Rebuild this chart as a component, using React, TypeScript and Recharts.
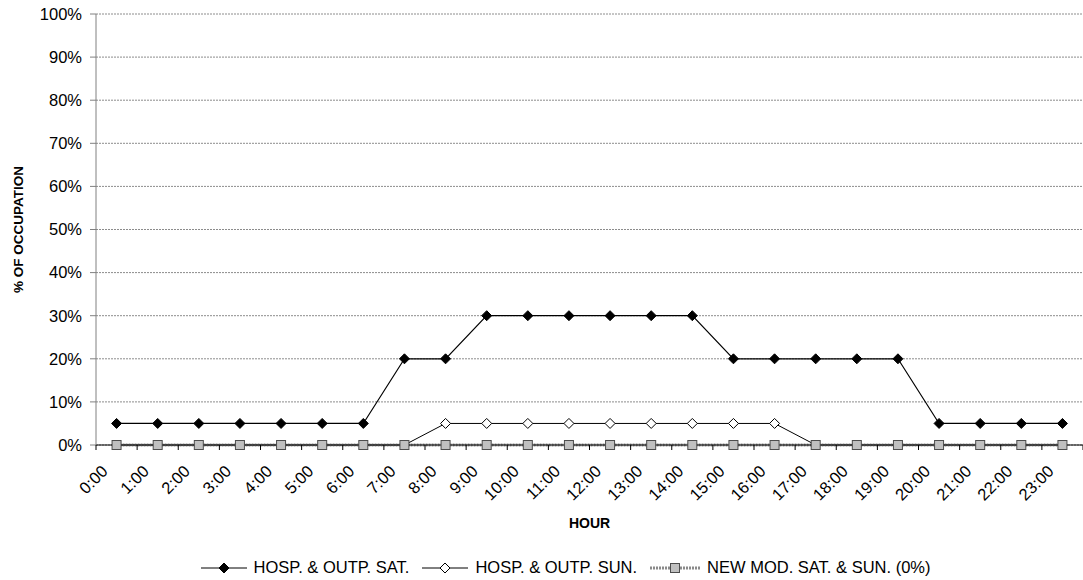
import React from 'react';
import { LineChart, Line, XAxis, YAxis, CartesianGrid, Legend } from 'recharts';

const hours = ['0:00','1:00','2:00','3:00','4:00','5:00','6:00','7:00','8:00','9:00','10:00','11:00','12:00','13:00','14:00','15:00','16:00','17:00','18:00','19:00','20:00','21:00','22:00','23:00'];
const satValues = [5,5,5,5,5,5,5,20,20,30,30,30,30,30,30,20,20,20,20,20,5,5,5,5];
const sunValues = [0,0,0,0,0,0,0,0,5,5,5,5,5,5,5,5,5,0,0,0,0,0,0,0];
const newModValues = [0,0,0,0,0,0,0,0,0,0,0,0,0,0,0,0,0,0,0,0,0,0,0,0];
const yTicks = [0,10,20,30,40,50,60,70,80,90,100];
const seriesNames = ['HOSP. & OUTP. SAT.', 'HOSP. & OUTP. SUN.', 'NEW MOD. SAT. & SUN. (0%)'];

const data = hours.map((h, i) => ({ x: i + 0.5, hour: h, sat: satValues[i], sun: sunValues[i], newMod: newModValues[i] }));
const xTicks = hours.flatMap((h, i) => [i, i + 0.5]).concat([hours.length]);

const FONT = 'Liberation Sans, Arial, sans-serif';
const TICK_FS = 16.5;

// text y passed to the tick = axis y + tickSize(6) + tickMargin(2)
const XTick = (props: any) => {
  const { x, y, payload } = props;
  const v = payload.value;
  if (Number.isInteger(v)) {
    return <line x1={x} y1={y - 8} x2={x} y2={y - 3} stroke="#000" strokeWidth={1} />;
  }
  const label = hours[Math.floor(v)];
  const tx = x - 12;
  const ty = y + 15;
  return (
    <text x={tx} y={ty} textAnchor="end" dominantBaseline="central" fontSize={TICK_FS} fontFamily={FONT} fill="#000" transform={`rotate(-45 ${tx} ${ty})`}>
      {label}
    </text>
  );
};

const diamond = (fill: string) => (p: any) => {
  const { cx, cy, index } = p;
  if (cx == null || cy == null) return <g key={index} />;
  return <path key={index} d={`M${cx},${cy - 5} L${cx + 5},${cy} L${cx},${cy + 5} L${cx - 5},${cy} Z`} fill={fill} stroke="#000" strokeWidth={1} />;
};
const square = (p: any) => {
  const { cx, cy, index } = p;
  if (cx == null || cy == null) return <g key={index} />;
  return <rect key={index} x={cx - 4.5} y={cy - 4.5} width={9} height={9} fill="#c0c0c0" stroke="#4d4d4d" strokeWidth={1} />;
};

const LegendContent = () => {
  const item = (i: number) => {
    let icon;
    if (i === 0) {
      icon = (
        <svg width={46} height={14}>
          <line x1={0} y1={7} x2={46} y2={7} stroke="#000" strokeWidth={1} />
          <path d="M23,2 L28,7 L23,12 L18,7 Z" fill="#000" stroke="#000" />
        </svg>
      );
    } else if (i === 1) {
      icon = (
        <svg width={46} height={14}>
          <line x1={0} y1={7} x2={46} y2={7} stroke="#000" strokeWidth={1} />
          <path d="M23,2 L28,7 L23,12 L18,7 Z" fill="#fff" stroke="#000" />
        </svg>
      );
    } else {
      icon = (
        <svg width={50} height={14}>
          <line x1={0} y1={7} x2={50} y2={7} stroke="#8a8a8a" strokeWidth={3} strokeDasharray="2 1" />
          <rect x={20.5} y={2.5} width={9} height={9} fill="#c0c0c0" stroke="#4d4d4d" />
        </svg>
      );
    }
    return (
      <div key={i} style={{ display: 'flex', alignItems: 'center', marginRight: i < 2 ? 13 : 0 }}>
        {icon}
        <span style={{ marginLeft: 7, fontSize: TICK_FS, fontFamily: FONT, color: '#000', whiteSpace: 'nowrap' }}>{seriesNames[i]}</span>
      </div>
    );
  };
  return (
    <div style={{ display: 'flex', justifyContent: 'center', alignItems: 'center', paddingTop: 6, paddingLeft: 48 }}>
      {item(0)}{item(1)}{item(2)}
    </div>
  );
};

export default function App() {
  return (
    <div style={{ position: 'absolute', left: 0, top: 0, background: '#fff' }}>
      <LineChart width={1083} height={580} data={data} margin={{ top: 14, right: 0, left: 0, bottom: 0 }}>
        <CartesianGrid vertical={false} stroke="#8c8c8c" strokeDasharray="2 1" />
        <XAxis
          dataKey="x"
          type="number"
          domain={[0, 24]}
          ticks={xTicks}
          interval={0}
          tick={<XTick />}
          tickLine={false}
          tickSize={6}
          tickMargin={2}
          axisLine={{ stroke: '#000' }}
          height={107}
          label={{ value: 'HOUR', position: 'insideTop', offset: 73, fontSize: 14, fontWeight: 'bold', fontFamily: FONT, fill: '#000' }}
        />
        <YAxis
          type="number"
          domain={[0, 100]}
          ticks={yTicks}
          interval={0}
          width={96}
          tickFormatter={(v: number) => `${v}%`}
          tick={{ fontSize: TICK_FS, fontFamily: FONT, fill: '#000' }}
          tickSize={6}
          tickMargin={8}
          axisLine={{ stroke: '#808080' }}
          tickLine={{ stroke: '#808080' }}
          label={{ value: '% OF OCCUPATION', angle: -90, position: 'center', dx: -30, fontSize: 13.5, fontWeight: 'bold', fontFamily: FONT, fill: '#000' }}
        />
        <Legend verticalAlign="bottom" height={28} content={<LegendContent />} />
        <Line dataKey="sat" name={seriesNames[0]} type="linear" stroke="#000" strokeWidth={1.2} dot={diamond('#000')} activeDot={false} isAnimationActive={false} />
        <Line dataKey="sun" name={seriesNames[1]} type="linear" stroke="#000" strokeWidth={1} dot={diamond('#fff')} activeDot={false} isAnimationActive={false} />
        <Line dataKey="newMod" name={seriesNames[2]} type="linear" stroke="#8a8a8a" strokeWidth={3} strokeDasharray="2 1" dot={square} activeDot={false} isAnimationActive={false} />
      </LineChart>
    </div>
  );
}
